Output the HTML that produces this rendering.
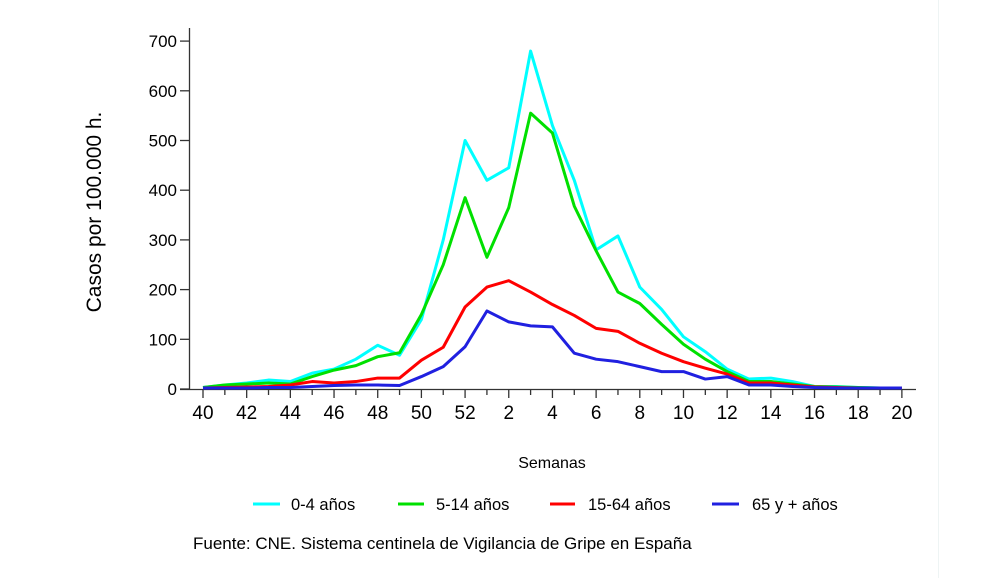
<!DOCTYPE html>
<html><head><meta charset="utf-8"><style>
body{margin:0;background:#fff;}
svg{display:block;font-family:"Liberation Sans",Arial,sans-serif;}
</style></head><body>
<svg width="996" height="578" viewBox="0 0 996 578" xmlns="http://www.w3.org/2000/svg">
<rect width="996" height="578" fill="#fff"/>
<line x1="938.5" y1="0" x2="938.5" y2="578" stroke="#eef4f4" stroke-width="1"/>
<g id="plot"></g>
<text x="0" y="0" transform="translate(101,212) rotate(-90)" font-size="21" text-anchor="middle" fill="#000">Casos por 100.000 h.</text>
<text x="552" y="468" font-size="16" text-anchor="middle" fill="#000">Semanas</text>
<g font-size="16.5" fill="#000">
<line x1="253" y1="504" x2="280" y2="504" stroke="#00ffff" stroke-width="3"/><text x="291" y="510">0-4 años</text>
<line x1="398" y1="504" x2="424" y2="504" stroke="#00e000" stroke-width="3"/><text x="436" y="510">5-14 años</text>
<line x1="550" y1="504" x2="575" y2="504" stroke="#ff0000" stroke-width="3"/><text x="588" y="510">15-64 años</text>
<line x1="712" y1="504" x2="739" y2="504" stroke="#2020e0" stroke-width="3"/><text x="752" y="510">65 y + años</text>
</g>
<text x="193" y="549" font-size="17" fill="#000">Fuente: CNE. Sistema centinela de Vigilancia de Gripe en España</text>
<script>
const g=document.getElementById('plot');const NS='http://www.w3.org/2000/svg';
function el(t,a,txt){const e=document.createElementNS(NS,t);for(const k in a)e.setAttribute(k,a[k]);if(txt!==undefined)e.textContent=txt;g.appendChild(e);return e;}
const X=i=>203+i*21.84, Y=v=>389-v*0.497;
el('line',{x1:189.5,y1:28,x2:189.5,y2:390,stroke:'#333','stroke-width':1.3});
el('line',{x1:180,y1:389.5,x2:916,y2:389.5,stroke:'#333','stroke-width':1.3});
for(let v=0;v<=700;v+=100){el('line',{x1:180,y1:Y(v),x2:189,y2:Y(v),stroke:'#333','stroke-width':1.3});
el('text',{x:177,y:Y(v)+6,'font-size':17,'text-anchor':'end'},String(v));}
const wk=[];for(let w=40;w<=52;w++)wk.push(w);for(let w=1;w<=20;w++)wk.push(w);
wk.forEach((w,i)=>{const big=w%2==0;el('line',{x1:X(i),y1:389,x2:X(i),y2:big?398:395,stroke:'#333','stroke-width':1.3});
if(big)el('text',{x:X(i),y:419,'font-size':19,'text-anchor':'middle'},String(w));});
const S=[
['#2020e0',[2,2,2,3,3,5,7,8,8,7,25,45,85,157,135,127,125,72,60,55,45,35,35,20,25,8,8,5,3,2,2,2,2]],
['#ff0000',[2,3,4,5,8,15,12,15,22,22,58,84,165,205,218,195,170,148,122,116,92,72,55,42,30,12,12,8,4,3,2,2,2]],
['#00e000',[3,8,10,12,10,25,38,47,65,73,150,250,385,265,365,555,515,368,278,195,172,130,90,60,35,15,15,10,5,4,3,2,2]],
['#00ffff',[3,8,12,18,15,32,40,60,88,68,140,300,500,420,445,680,530,420,280,308,205,160,105,75,40,20,22,15,5,5,3,2,2]]];
[3,2,1,0].forEach(k=>{const [c,d]=S[k];el('polyline',{points:d.map((v,i)=>X(i)+','+Y(v)).join(' '),fill:'none',stroke:c,'stroke-width':3,'stroke-linejoin':'round'});});
</script>
</svg>
</body></html>
